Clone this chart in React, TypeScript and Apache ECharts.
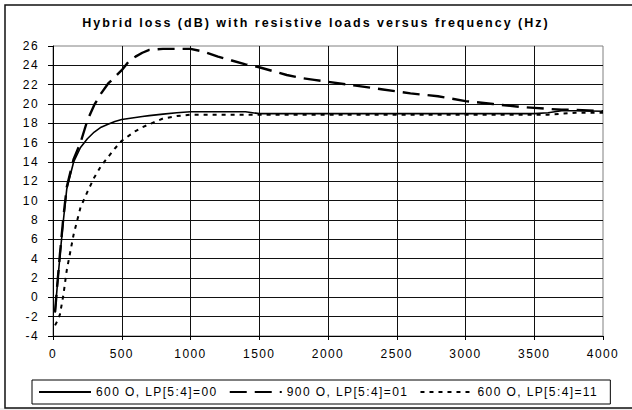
import React, { useEffect, useRef } from "react";
import * as echarts from "echarts";

// Frequency samples (Hz), shared by all three curves
const freqHz = [
  15, 30, 50, 75, 100, 150, 200, 250, 300, 350, 400, 450, 500, 550, 600, 650,
  700, 800, 900, 1000, 1100, 1200, 1300, 1400, 1500, 1600, 1700, 1800, 1900,
  2000, 2200, 2400, 2600, 2800, 3000, 3200, 3400, 3500, 3600, 3700, 3800, 4000,
];

// Hybrid loss (dB) — 600 O, LP[5:4]=00
const loss600_00 = [
  -1.6, 1.0, 4.2, 7.9, 11.2, 14.0, 15.5, 16.4, 17.1, 17.6, 17.9, 18.2, 18.4,
  18.5, 18.6, 18.7, 18.8, 18.95, 19.1, 19.2, 19.2, 19.2, 19.2, 19.2, 19.0,
  19.0, 19.0, 19.0, 19.0, 19.0, 19.0, 19.0, 19.0, 19.0, 19.0, 19.0, 19.0,
  19.0, 19.1, 19.3, 19.3, 19.25,
];

// Hybrid loss (dB) — 900 O, LP[5:4]=01
const loss900_01 = [
  -1.5, 1.1, 4.4, 8.2, 11.4, 14.3, 16.0, 18.3, 19.9, 21.1, 22.1, 22.8, 23.5,
  24.4, 24.9, 25.3, 25.6, 25.7, 25.7, 25.7, 25.4, 24.9, 24.5, 24.1, 23.8,
  23.4, 23.0, 22.7, 22.5, 22.3, 21.9, 21.5, 21.1, 20.8, 20.3, 20.0, 19.7,
  19.6, 19.5, 19.4, 19.4, 19.25,
];

// Hybrid loss (dB) — 600 O, LP[5:4]=11
const loss600_11 = [
  -2.9, -2.5, -1.8, 0.2, 2.8, 6.5, 9.3, 10.9, 12.4, 13.6, 14.5, 15.4, 16.2,
  16.7, 17.2, 17.6, 17.9, 18.5, 18.75, 18.9, 18.9, 18.9, 18.9, 18.9, 18.9,
  18.9, 18.9, 18.9, 18.9, 18.9, 18.9, 18.9, 18.9, 18.9, 18.9, 18.9, 18.9,
  18.9, 18.9, 19.0, 19.1, 19.1,
];

const seriesNames = [
  "600 O, LP[5:4]=00",
  "900 O, LP[5:4]=01",
  "600 O, LP[5:4]=11",
];

const titleText = "Hybrid loss (dB) with resistive loads versus frequency (Hz)";

// Axis scales
const xMin = 0;
const xMax = 4000;
const xStep = 500;
const yMin = -4;
const yMax = 26;
const yStep = 2;

const FONT = "'Liberation Sans', Arial, sans-serif";

export default function App() {
  const ref = useRef<HTMLDivElement>(null);

  useEffect(() => {
    if (!ref.current) return;
    const chart = echarts.init(ref.current, null, { renderer: "svg" });
    const pairs = (vals: number[]) => freqHz.map((f, i) => [f, vals[i]]);

    chart.setOption({
      animation: false,
      backgroundColor: "#ffffff",
      textStyle: { fontFamily: FONT, color: "#000" },
      graphic: [
        {
          type: "rect",
          silent: true,
          z: -10,
          shape: { x: 0, y: 408, width: 632, height: 2 },
          style: { fill: "#eeeeee" },
        },
        {
          type: "rect",
          silent: true,
          z: -5,
          shape: { x: 5, y: 5, width: 660, height: 403 },
          style: { fill: "none", stroke: "#111", lineWidth: 1.5 },
        },
        {
          type: "text",
          x: 316,
          y: 23,
          style: {
            text: titleText,
            fontFamily: FONT,
            fontSize: 12.5,
            fontWeight: "bold",
            fill: "#000",
            textAlign: "center",
            textVerticalAlign: "middle",
          },
        },
      ],
      grid: {
        left: 53,
        top: 46,
        right: 29,
        bottom: 74,
        show: true,
        borderColor: "#808080",
        borderWidth: 1,
        backgroundColor: "transparent",
      },
      legend: {
        left: 32,
        top: 380,
        orient: "horizontal",
        itemWidth: 52,
        itemHeight: 14,
        itemGap: 35,
        padding: [6, 36, 6, 6],
        borderColor: "#000",
        borderWidth: 1,
        itemStyle: { opacity: 0, borderWidth: 0 },
        textStyle: { fontFamily: FONT, fontSize: 12, color: "#000" },
        data: seriesNames,
      },
      xAxis: {
        type: "value",
        min: xMin,
        max: xMax,
        interval: xStep,
        axisLine: { show: true, onZero: false, lineStyle: { color: "#000", width: 1 } },
        axisTick: { show: true, length: 4, lineStyle: { color: "#000" } },
        axisLabel: {
          fontFamily: FONT,
          fontSize: 12,
          color: "#000",
          margin: 12,
          formatter: (v: number) => String(v),
        },
        splitLine: {
          show: true,
          showMaxLine: false,
          lineStyle: { color: "#111", width: 1 },
        },
      },
      yAxis: {
        type: "value",
        min: yMin,
        max: yMax,
        interval: yStep,
        axisLine: { show: true, onZero: false, lineStyle: { color: "#000", width: 1 } },
        axisTick: { show: true, length: 5, lineStyle: { color: "#000" } },
        axisLabel: {
          fontFamily: FONT,
          fontSize: 12,
          color: "#000",
          margin: 14,
          formatter: (v: number) => String(v),
        },
        splitLine: {
          show: true,
          showMaxLine: false,
          lineStyle: { color: "#111", width: 1 },
        },
      },
      series: [
        {
          name: seriesNames[0],
          type: "line",
          data: pairs(loss600_00),
          symbol: "none",
          lineStyle: { color: "#000", width: 1.6, type: "solid" },
          itemStyle: { color: "#000" },
          z: 4,
        },
        {
          name: seriesNames[1],
          type: "line",
          data: pairs(loss900_01),
          symbol: "none",
          lineStyle: { color: "#000", width: 2.4, type: [17, 8] },
          itemStyle: { color: "#000" },
          z: 3,
        },
        {
          name: seriesNames[2],
          type: "line",
          data: pairs(loss600_11),
          symbol: "none",
          lineStyle: { color: "#000", width: 2, type: [4, 5] },
          itemStyle: { color: "#000" },
          z: 2,
        },
      ],
    });

    return () => chart.dispose();
  }, []);

  return (
    <div>
      <style>{`html,body{margin:0;padding:0;background:#fff;} .hyb svg text{letter-spacing:1.4px;} .hyb svg text[style*="bold"]{letter-spacing:2px;}`}</style>
      <div ref={ref} className="hyb" style={{ width: 632, height: 410 }} />
    </div>
  );
}
